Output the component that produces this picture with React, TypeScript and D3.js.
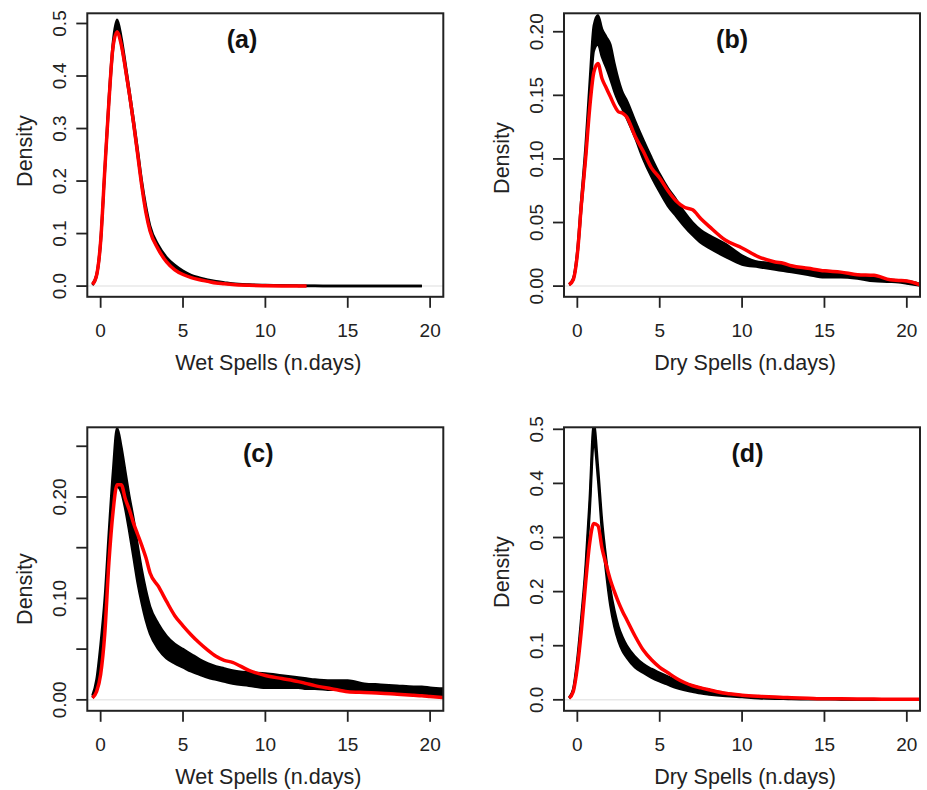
import React from 'react';
import * as d3 from 'd3';

// spell length grid (days) shared by every density curve
const spellDays = [-0.5, -0.25, 0, 0.25, 0.5, 0.75, 1, 1.25, 1.5, 1.75, 2, 2.25, 2.5, 2.75, 3, 3.5, 4, 4.5, 5, 5.5, 6, 6.5, 7, 7.5, 8, 9, 10, 11, 12, 12.5, 13, 14, 15, 16, 17, 18, 19, 19.5, 20, 21];

// (a) wet spells
const aObserved = [0.003, 0.02, 0.085, 0.22, 0.35, 0.455, 0.484, 0.46, 0.415, 0.365, 0.31, 0.25, 0.19, 0.14, 0.105, 0.07, 0.046, 0.031, 0.022, 0.016, 0.012, 0.009, 0.006, 0.0045, 0.003, 0.0015, 0.0008, 0.0004, 0.0002, 0.0001, null, null, null, null, null, null, null, null, null, null];
const aSimUpper = [0.004, 0.022, 0.09, 0.225, 0.36, 0.465, 0.507, 0.475, 0.425, 0.372, 0.318, 0.26, 0.2, 0.152, 0.115, 0.078, 0.055, 0.04, 0.029, 0.021, 0.016, 0.012, 0.009, 0.007, 0.005, 0.003, 0.002, 0.0012, 0.0008, 0.0006, 0.0005, 0.0003, 0.0002, 0.0001, 0.0001, 0.0001, 0, 0, null, null];
const aSimLower = [0.002, 0.018, 0.08, 0.215, 0.345, 0.45, 0.49, 0.46, 0.412, 0.36, 0.305, 0.248, 0.19, 0.142, 0.106, 0.071, 0.048, 0.033, 0.024, 0.017, 0.013, 0.009, 0.007, 0.005, 0.0035, 0.002, 0.001, 0.0006, 0.0004, 0.0003, 0.0002, 0.0001, 0.0001, 0, 0, 0, 0, 0, null, null];

// (b) dry spells
const bObserved = [0.001, 0.005, 0.025, 0.065, 0.1, 0.14, 0.168, 0.175, 0.163, 0.156, 0.149, 0.142, 0.137, 0.136, 0.133, 0.118, 0.106, 0.093, 0.085, 0.075, 0.067, 0.062, 0.06, 0.053, 0.047, 0.036, 0.03, 0.023, 0.019, 0.018, 0.016, 0.014, 0.012, 0.011, 0.009, 0.0085, 0.005, 0.0045, 0.004, 0];
const bSimUpper = [0.0015, 0.006, 0.028, 0.07, 0.11, 0.16, 0.205, 0.213, 0.202, 0.196, 0.19, 0.175, 0.162, 0.152, 0.146, 0.13, 0.115, 0.101, 0.088, 0.077, 0.068, 0.058, 0.05, 0.044, 0.04, 0.033, 0.024, 0.019, 0.018, 0.017, 0.015, 0.013, 0.012, 0.01, 0.009, 0.007, 0.005, 0.0045, 0.004, 0.001];
const bSimLower = [0.001, 0.005, 0.024, 0.062, 0.1, 0.145, 0.185, 0.19, 0.18, 0.172, 0.163, 0.153, 0.145, 0.139, 0.132, 0.117, 0.1, 0.086, 0.074, 0.063, 0.055, 0.047, 0.04, 0.034, 0.03, 0.023, 0.017, 0.015, 0.013, 0.012, 0.011, 0.009, 0.007, 0.007, 0.006, 0.004, 0.0035, 0.003, 0.002, 0];

// (c) wet spells
const cObserved = [0.002, 0.008, 0.025, 0.065, 0.135, 0.185, 0.212, 0.212, 0.198, 0.187, 0.174, 0.163, 0.152, 0.14, 0.125, 0.112, 0.097, 0.083, 0.073, 0.064, 0.056, 0.049, 0.043, 0.039, 0.037, 0.029, 0.024, 0.021, 0.018, 0.016, 0.014, 0.011, 0.008, 0.0072, 0.0066, 0.0055, 0.0045, 0.004, 0.0033, 0.002];
const cSimUpper = [0.004, 0.02, 0.055, 0.1, 0.165, 0.225, 0.268, 0.25, 0.225, 0.2, 0.178, 0.152, 0.128, 0.108, 0.092, 0.075, 0.063, 0.055, 0.05, 0.045, 0.04, 0.036, 0.033, 0.031, 0.029, 0.027, 0.026, 0.024, 0.022, 0.021, 0.02, 0.019, 0.019, 0.016, 0.015, 0.014, 0.013, 0.013, 0.012, 0.011];
const cSimLower = [0.002, 0.012, 0.04, 0.085, 0.145, 0.195, 0.21, 0.205, 0.188, 0.165, 0.14, 0.115, 0.095, 0.078, 0.065, 0.05, 0.041, 0.036, 0.032, 0.028, 0.025, 0.022, 0.02, 0.018, 0.016, 0.014, 0.012, 0.012, 0.012, 0.011, 0.011, 0.01, 0.01, 0.009, 0.008, 0.007, 0.005, 0.005, 0.004, 0.003];

// (d) dry spells
const dObserved = [0.003, 0.015, 0.06, 0.13, 0.215, 0.29, 0.326, 0.322, 0.28, 0.25, 0.222, 0.2, 0.18, 0.163, 0.148, 0.118, 0.092, 0.074, 0.06, 0.05, 0.04, 0.032, 0.026, 0.022, 0.0185, 0.012, 0.0086, 0.0065, 0.005, 0.0045, 0.004, 0.003, 0.002, 0.0018, 0.0015, 0.0013, 0.0011, 0.001, 0.001, 0.0008];
const dSimUpper = [0.004, 0.02, 0.075, 0.155, 0.245, 0.37, 0.51, 0.43, 0.33, 0.26, 0.205, 0.165, 0.135, 0.115, 0.1, 0.08, 0.066, 0.057, 0.05, 0.043, 0.036, 0.031, 0.026, 0.022, 0.018, 0.012, 0.008, 0.005, 0.004, 0.0035, 0.003, 0.0025, 0.002, 0.0015, 0.0012, 0.001, 0.0008, 0.0007, 0.0006, 0.0005];
const dSimLower = [0.003, 0.016, 0.065, 0.14, 0.23, 0.35, 0.48, 0.41, 0.31, 0.235, 0.175, 0.135, 0.108, 0.09, 0.078, 0.06, 0.05, 0.041, 0.034, 0.028, 0.022, 0.018, 0.015, 0.012, 0.01, 0.007, 0.005, 0.003, 0.002, 0.002, 0.0015, 0.001, 0.001, 0.0008, 0.0006, 0.0005, 0.0004, 0.0003, 0.0003, 0.0002];

const xTicks = [0, 5, 10, 15, 20];
const aTicks = [0, 0.1, 0.2, 0.3, 0.4, 0.5];
const bTicks = [0, 0.05, 0.1, 0.15, 0.2];
const cTicks = [0, 0.05, 0.1, 0.15, 0.2, 0.25];
const cTickLabels = [0, 0.1, 0.2];
const dTicks = [0, 0.1, 0.2, 0.3, 0.4, 0.5];

const FONT = "'Liberation Sans', Arial, Helvetica, sans-serif";
const W = 356;
const H = 283.5;
const TICK = 11;

type Num = number | null;

const Panel = ({ id, left, top, tag, tagX, xTitle, yDomain, yTicks, yLabels, fmt, observed, upper, lower, yTitleDy }) => {
  const x = d3.scaleLinear().domain([-0.81, 20.8]).range([0, W]);
  const y = d3.scaleLinear().domain(yDomain).range([H, 0]);

  const line = d3
    .line<[number, Num]>()
    .defined(d => d[1] != null)
    .x(d => x(d[0]))
    .y(d => y(d[1] as number))
    .curve(d3.curveMonotoneX);

  const band = d3
    .area<[number, Num, Num]>()
    .defined(d => d[1] != null && d[2] != null)
    .x(d => x(d[0]))
    .y0(d => y(d[1] as number))
    .y1(d => y(d[2] as number))
    .curve(d3.curveMonotoneX);

  const pair = (vals: Num[]) => spellDays.map((d, i) => [d, vals[i]] as [number, Num]);
  const triple = spellDays.map((d, i) => [d, lower[i], upper[i]] as [number, Num, Num]);
  const format = d3.format(fmt);

  return (
    <g transform={`translate(${left},${top})`}>
      <defs>
        <clipPath id={`clip-${id}`}>
          <rect x={0} y={0} width={W} height={H} />
        </clipPath>
      </defs>
      <g clipPath={`url(#clip-${id})`}>
        <line x1={0} x2={W} y1={y(0)} y2={y(0)} stroke="#e8e8e8" strokeWidth={1.5} />
        <path d={band(triple) || ''} fill="#000" />
        <path d={line(pair(upper)) || ''} fill="none" stroke="#000" strokeWidth={2.5} />
        <path d={line(pair(lower)) || ''} fill="none" stroke="#000" strokeWidth={2.5} />
        <path d={line(pair(observed)) || ''} fill="none" stroke="#ff0000" strokeWidth={3.5} strokeLinejoin="round" />
      </g>
      <rect x={0} y={0} width={W} height={H} fill="none" stroke="#222" strokeWidth={2} />

      {/* x axis */}
      {xTicks.map(t => (
        <g key={t} transform={`translate(${x(t)},${H})`}>
          <line y1={0} y2={TICK} stroke="#222" strokeWidth={1.8} />
          <text y={40.5} textAnchor="middle" fontSize={19} fontFamily={FONT} fill="#222">{t}</text>
        </g>
      ))}
      <text x={W / 2 + 3} y={H + 73} textAnchor="middle" fontSize={21.5} fontFamily={FONT} fill="#222">{xTitle}</text>

      {/* y axis */}
      {yTicks.map(t => (
        <line key={t} x1={-TICK} x2={0} y1={y(t)} y2={y(t)} stroke="#222" strokeWidth={1.8} />
      ))}
      {yLabels.map(t => (
        <text key={t} transform={`translate(-28,${y(t)}) rotate(-90)`} dy="0.36em" textAnchor="middle" fontSize={19} fontFamily={FONT} fill="#222">
          {format(t)}
        </text>
      ))}
      <text transform={`translate(-63,${H / 2 + yTitleDy}) rotate(-90)`} dy="0.36em" textAnchor="middle" fontSize={21.5} fontFamily={FONT} fill="#222">
        Density
      </text>

      <text x={x(tagX)} y={35} textAnchor="middle" fontSize={25} fontWeight="bold" fontFamily={FONT} fill="#111">{tag}</text>
    </g>
  );
};

export default function App() {
  return (
    <svg width={927} height={790} style={{ position: 'absolute', left: 0, top: 0, background: '#fff' }}>
      <rect width={927} height={790} fill="#fff" />
      <Panel id="a" left={87.3} top={13.3} tag="(a)" tagX={8.58} xTitle="Wet Spells (n.days)" yDomain={[-0.0204, 0.5194]} yTicks={aTicks} yLabels={aTicks} fmt=".1f" observed={aObserved} upper={aSimUpper} lower={aSimLower} yTitleDy={-4} />
      <Panel id="b" left={564} top={13.3} tag="(b)" tagX={9.39} xTitle="Dry Spells (n.days)" yDomain={[-0.0084, 0.2145]} yTicks={bTicks} yLabels={bTicks} fmt=".2f" observed={bObserved} upper={bSimUpper} lower={bSimLower} yTitleDy={3} />
      <Panel id="c" left={87.3} top={427.3} tag="(c)" tagX={9.57} xTitle="Wet Spells (n.days)" yDomain={[-0.0108, 0.2687]} yTicks={cTicks} yLabels={cTickLabels} fmt=".2f" observed={cObserved} upper={cSimUpper} lower={cSimLower} yTitleDy={20} />
      <Panel id="d" left={564} top={427.3} tag="(d)" tagX={10.33} xTitle="Dry Spells (n.days)" yDomain={[-0.0203, 0.5037]} yTicks={dTicks} yLabels={dTicks} fmt=".1f" observed={dObserved} upper={dSimUpper} lower={dSimLower} yTitleDy={3} />
    </svg>
  );
}
